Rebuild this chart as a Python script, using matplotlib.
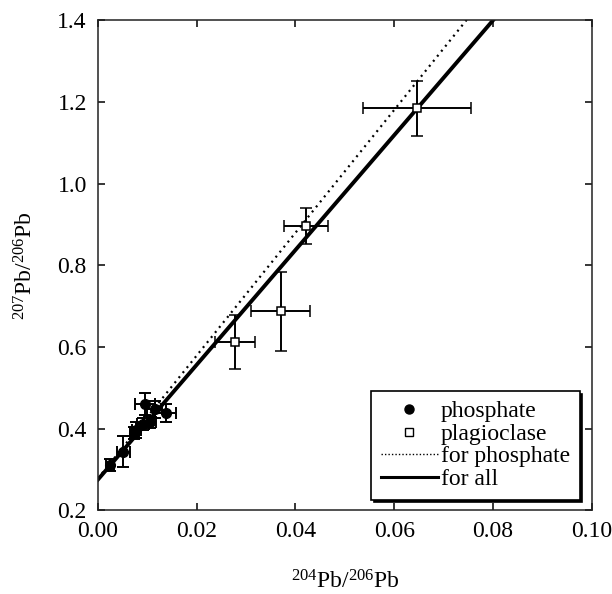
import numpy as np
import matplotlib
matplotlib.use("Agg")
import matplotlib.pyplot as plt
from matplotlib.lines import Line2D

plt.rcParams['font.family'] = ['Liberation Serif', 'DejaVu Serif']
plt.rcParams['mathtext.fontset'] = 'custom'
plt.rcParams['mathtext.rm'] = 'Liberation Serif'
plt.rcParams['mathtext.it'] = 'Liberation Serif:italic'

# phosphate analyses
phos_x = [0.0024, 0.0051, 0.0074, 0.0078, 0.0092, 0.0105, 0.0115, 0.0095, 0.0137]
phos_y = [0.310, 0.343, 0.389, 0.396, 0.412, 0.416, 0.447, 0.461, 0.437]
phos_xerr = [0.0008, 0.0013, 0.0010, 0.0010, 0.0012, 0.0012, 0.0015, 0.0020, 0.0022]
phos_yerr = [0.015, 0.038, 0.015, 0.020, 0.015, 0.015, 0.020, 0.027, 0.022]

# plagioclase analyses
plag_x = [0.0278, 0.0370, 0.0421, 0.0646]
plag_y = [0.611, 0.687, 0.895, 1.184]
plag_xerr = [0.0040, 0.0060, 0.0045, 0.0110]
plag_yerr = [0.066, 0.097, 0.044, 0.068]

# regression lines (intercept, slope)
fit_phos = (0.278, 15.04)
fit_all = (0.275, 14.06)

fig = plt.figure(figsize=(6.12, 5.94), dpi=100)
ax = fig.add_axes([0.160, 0.141, 0.807, 0.825])

xx = np.array([0.0, 0.1])
ax.plot(xx, fit_phos[0] + fit_phos[1] * xx, color='black', lw=1.6, ls=(0, (0.9, 2.0)), zorder=2)
ax.plot(xx, fit_all[0] + fit_all[1] * xx, color='black', lw=2.8, zorder=2)

ax.errorbar(plag_x, plag_y, xerr=plag_xerr, yerr=plag_yerr, fmt='s', ms=6,
            mfc='white', mec='black', mew=1.1, ecolor='black', elinewidth=1.4,
            capsize=4.5, capthick=1.4, zorder=3)
ax.errorbar(phos_x, phos_y, xerr=phos_xerr, yerr=phos_yerr, fmt='o', ms=7,
            mfc='black', mec='black', ecolor='black', elinewidth=1.4,
            capsize=4.5, capthick=1.4, zorder=4)

ax.set_xlim(0, 0.10)
ax.set_ylim(0.2, 1.4)
ax.set_xticks([0.00, 0.02, 0.04, 0.06, 0.08, 0.10])
ax.set_xticklabels(['0.00', '0.02', '0.04', '0.06', '0.08', '0.10'])
ax.set_yticks([0.2, 0.4, 0.6, 0.8, 1.0, 1.2, 1.4])
ax.set_yticklabels(['0.2', '0.4', '0.6', '0.8', '1.0', '1.2', '1.4'])
ax.tick_params(direction='in', top=True, right=True, length=5, width=1.1,
               labelsize=17, pad=8)
for s in ax.spines.values():
    s.set_linewidth(1.1)
    s.set_color('#222222')

ax.set_xlabel(r'$^{204}$Pb/$^{206}$Pb', fontsize=17, labelpad=20)
ax.set_ylabel(r'$^{207}$Pb/$^{206}$Pb', fontsize=17, labelpad=14)

handles = [
    Line2D([], [], ls='none', marker='o', ms=6.5, mfc='black', mec='black'),
    Line2D([], [], ls='none', marker='s', ms=5.5, mfc='white', mec='black', mew=1.0),
    Line2D([], [], color='black', lw=1.0, ls=(0, (1, 1.5))),
    Line2D([], [], color='black', lw=2.2),
]
labels = ['phosphate', 'plagioclase', 'for phosphate', 'for all']
leg = ax.legend(handles, labels, loc='lower right', bbox_to_anchor=(0.985, 0.012),
                fontsize=17, frameon=True, fancybox=False, framealpha=1,
                edgecolor='black', handlelength=2.4, handletextpad=0.15,
                labelspacing=0.05, borderpad=0.4, borderaxespad=0.2,
                shadow={'color': 'black', 'alpha': 1.0})
leg.get_frame().set_linewidth(1.2)

fig.savefig('out.png', dpi=100)
